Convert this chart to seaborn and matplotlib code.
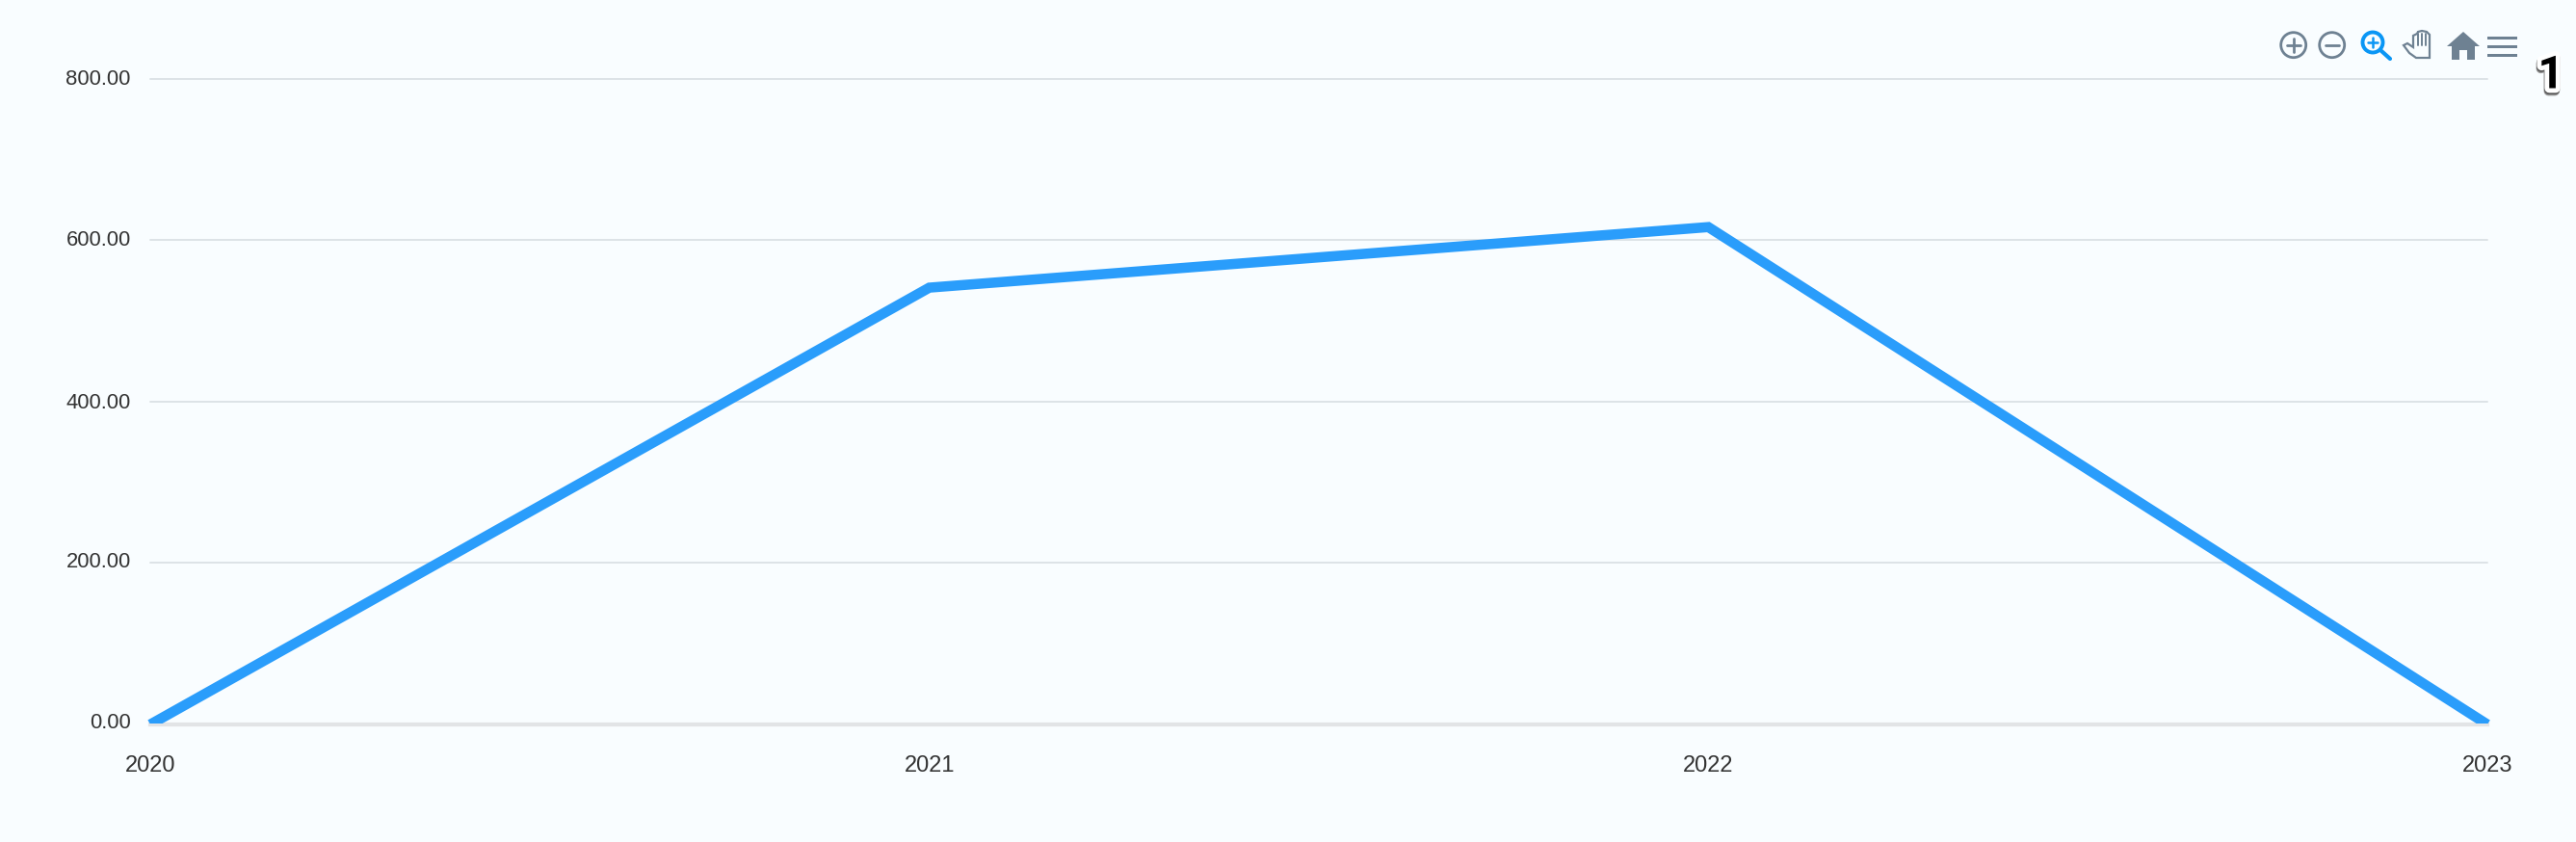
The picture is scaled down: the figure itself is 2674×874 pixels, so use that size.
import numpy as np
import pandas as pd
import seaborn as sns
import matplotlib.pyplot as plt
import matplotlib.patheffects as pe
from matplotlib.patches import Circle, Polygon, Rectangle
from matplotlib.transforms import Bbox, ScaledTranslation, TransformedBbox

years = [2020, 2021, 2022, 2023]
values = [0, 541, 616, 0]
y_ticks = [0, 200, 400, 600, 800]

W, H = 2674, 874
BG = '#F9FDFF'
ICON = '#6E8192'
BLUE = '#2A9DFB'

sns.set_theme(style='white')
plt.rcParams['font.family'] = ['Liberation Sans', 'DejaVu Sans']

df = pd.DataFrame({'year': years, 'value': values})

fig = plt.figure(figsize=[W / 100, H / 100], dpi=100, facecolor=BG)
ax = fig.add_axes([156 / W, 1 - 752 / H, (2582 - 156) / W, (752 - 81.5) / H], facecolor=BG)

sns.lineplot(x='year', y='value', data=df, ax=ax, color=BLUE, linewidth=7.6,
             errorbar=None, zorder=5)
line = ax.lines[0]
line.set_solid_capstyle('butt')
line.set_solid_joinstyle('miter')
# line ends get cut just under the baseline
line.set_clip_box(TransformedBbox(Bbox([[150 / W, 1 - 751 / H], [2590 / W, 1]]), fig.transFigure))

ax.set_xlim(2020, 2023)
ax.set_ylim(0, 800)
ax.set_xlabel('')
ax.set_ylabel('')
ax.set_xticks(years)
ax.set_xticklabels([str(y) for y in years], fontsize=17, color='#333333')
ax.set_yticks(y_ticks)
ax.set_yticklabels(['{:.2f}'.format(v) for v in y_ticks], fontsize=15.8, color='#333333')
ax.tick_params(axis='x', length=0, pad=23)
ax.tick_params(axis='y', length=0, pad=14.5)

# y labels sit a few px above their gridlines, more so lower down
for lab, shift in zip(ax.get_yticklabels(), [4, 3.5, 1, 2.5, 1.5]):
    lab.set_transform(lab.get_transform() + ScaledTranslation(0, shift / 100, fig.dpi_scale_trans))

ax.grid(axis='y', color='#DDE3E7', linewidth=1.4)
ax.grid(axis='x', visible=False)
for gl in ax.get_ygridlines():
    gl.set_clip_on(False)
sns.despine(ax=ax, left=True, top=True, right=True)
ax.spines['bottom'].set_color('#E2E4E6')
ax.spines['bottom'].set_linewidth(3)

# toolbar + badge, overlay in pixel coords
ov = fig.add_axes([0, 0, 1, 1], facecolor='none')
ov.set_xlim(0, W)
ov.set_ylim(H, 0)
ov.axis('off')

for cx in [2380.7, 2420.7]:
    ov.add_patch(Circle((cx, 46.7), 13, fill=False, ec=ICON, lw=2))
    ov.plot([cx - 7, cx + 7], [46.7, 46.7], color=ICON, lw=2)
ov.plot([2380.7, 2380.7], [39.7, 53.7], color=ICON, lw=2)

ov.add_patch(Circle((2463, 44), 10.5, fill=False, ec='#0A96F5', lw=2.8))
ov.plot([2471, 2481], [52, 61], color='#0A96F5', lw=3)
ov.plot([2458, 2468], [44, 44], color='#0A96F5', lw=1.8)
ov.plot([2463, 2463], [39, 49], color='#0A96F5', lw=1.8)

hand = [(2495, 47), (2499, 45), (2505, 49), (2505, 37), (2509, 35), (2510, 33), (2514, 32),
        (2519, 33), (2522, 36), (2522, 60), (2508, 60), (2501, 55)]
ov.add_patch(Polygon(hand, closed=True, fill=False, ec=ICON, lw=1.6))
for hx in [2510, 2514, 2518]:
    ov.plot([hx, hx], [35, 47], color=ICON, lw=1.4)

ov.add_patch(Polygon([(2540, 48), (2557, 33), (2574, 48), (2569, 48), (2569, 62), (2561, 62),
                      (2561, 52), (2553, 52), (2553, 62), (2545, 62), (2545, 48)],
                     closed=True, fc=ICON, ec='none'))
for my in [39.5, 48, 57]:
    ov.add_patch(Rectangle((2582, my - 1.5), 31, 3, fc=ICON, ec='none'))

ov.text(2648, 78.5, '1', fontsize=34, fontweight='bold', color='black', ha='center', va='center',
        family=['Roboto'],
        path_effects=[pe.Stroke(linewidth=7, foreground='#999999', offset=(-0.6, -2.2)),
                      pe.Stroke(linewidth=7, foreground='#555555', offset=(-0.3, -1.2)),
                      pe.Stroke(linewidth=7, foreground='white'),
                      pe.Normal()])

plt.savefig('out.png', dpi=100, facecolor=BG)
